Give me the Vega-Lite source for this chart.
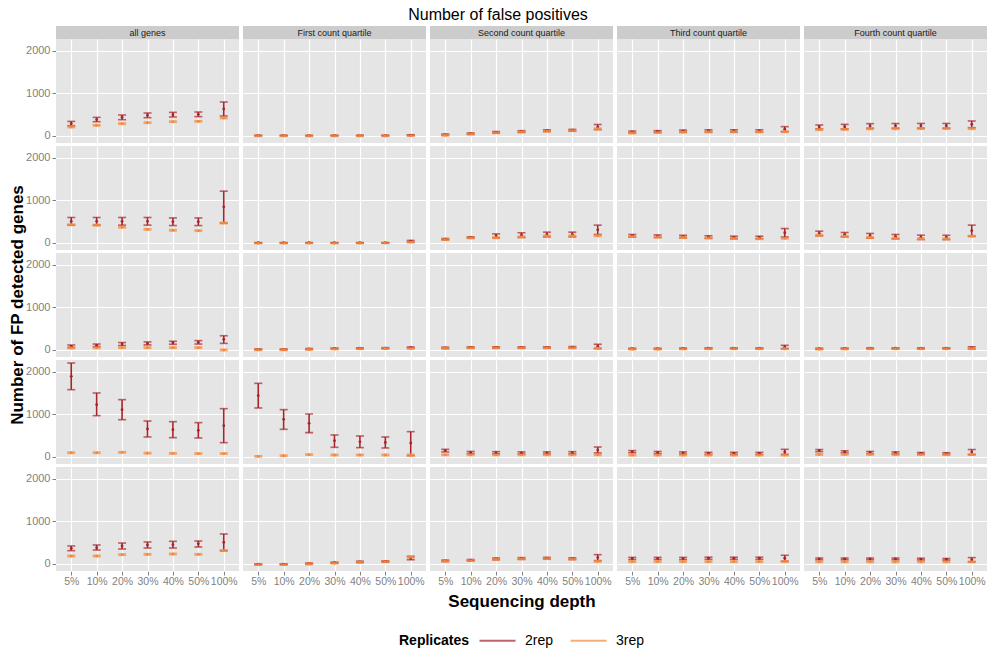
{
"$schema": "https://vega.github.io/schema/vega-lite/v6.json",
"background": "white",
"padding": {"left": 8, "top": 7, "right": 0, "bottom": 0},
"title": {"text": "Number of false positives", "fontSize": 16, "fontWeight": "normal", "font": "Liberation Sans", "color": "black", "anchor": "middle", "offset": 3},
"spacing": 0,
"bounds": "flush",
"vconcat": [
{
"data": {"values": [{"c": "all genes"}, {"c": "First count quartile"}, {"c": "Second count quartile"}, {"c": "Third count quartile"}, {"c": "Fourth count quartile"}]},
"width": 931,
"height": 13,
"view": {"fill": "white", "stroke": null},
"encoding": {"x": {"field": "c", "type": "nominal", "sort": ["all genes", "First count quartile", "Second count quartile", "Third count quartile", "Fourth count quartile"], "scale": {"type": "band", "paddingInner": 0.0214, "paddingOuter": 0}, "axis": null}},
"layer": [
  {"mark": {"type": "rect", "fill": "#CCCCCC"}},
  {"mark": {"type": "text", "fontSize": 9, "color": "#1A1A1A", "font": "Liberation Sans"}, "encoding": {"text": {"field": "c", "type": "nominal"}}}
]
},
{
"data": {"values": [
{"r":"1","c":"all genes","d":"5%","s":"2rep","m":292,"l":242,"u":343},
{"r":"1","c":"all genes","d":"10%","s":"2rep","m":387,"l":336,"u":438},
{"r":"1","c":"all genes","d":"20%","s":"2rep","m":440,"l":384,"u":494},
{"r":"1","c":"all genes","d":"30%","s":"2rep","m":485,"l":431,"u":541},
{"r":"1","c":"all genes","d":"40%","s":"2rep","m":500,"l":447,"u":556},
{"r":"1","c":"all genes","d":"50%","s":"2rep","m":510,"l":455,"u":564},
{"r":"1","c":"all genes","d":"100%","s":"2rep","m":635,"l":470,"u":800},
{"r":"1","c":"all genes","d":"5%","s":"3rep","m":212,"l":197,"u":227},
{"r":"1","c":"all genes","d":"10%","s":"3rep","m":250,"l":235,"u":265},
{"r":"1","c":"all genes","d":"20%","s":"3rep","m":290,"l":275,"u":305},
{"r":"1","c":"all genes","d":"30%","s":"3rep","m":313,"l":298,"u":328},
{"r":"1","c":"all genes","d":"40%","s":"3rep","m":337,"l":322,"u":352},
{"r":"1","c":"all genes","d":"50%","s":"3rep","m":344,"l":329,"u":359},
{"r":"1","c":"all genes","d":"100%","s":"3rep","m":423,"l":408,"u":438},
{"r":"1","c":"First count quartile","d":"5%","s":"2rep","m":10,"l":2,"u":18},
{"r":"1","c":"First count quartile","d":"10%","s":"2rep","m":10,"l":2,"u":18},
{"r":"1","c":"First count quartile","d":"20%","s":"2rep","m":10,"l":2,"u":18},
{"r":"1","c":"First count quartile","d":"30%","s":"2rep","m":10,"l":2,"u":18},
{"r":"1","c":"First count quartile","d":"40%","s":"2rep","m":10,"l":2,"u":18},
{"r":"1","c":"First count quartile","d":"50%","s":"2rep","m":10,"l":2,"u":18},
{"r":"1","c":"First count quartile","d":"100%","s":"2rep","m":20,"l":12,"u":28},
{"r":"1","c":"First count quartile","d":"5%","s":"3rep","m":0,"l":-8,"u":8},
{"r":"1","c":"First count quartile","d":"10%","s":"3rep","m":0,"l":-8,"u":8},
{"r":"1","c":"First count quartile","d":"20%","s":"3rep","m":0,"l":-8,"u":8},
{"r":"1","c":"First count quartile","d":"30%","s":"3rep","m":0,"l":-8,"u":8},
{"r":"1","c":"First count quartile","d":"40%","s":"3rep","m":0,"l":-8,"u":8},
{"r":"1","c":"First count quartile","d":"50%","s":"3rep","m":0,"l":-8,"u":8},
{"r":"1","c":"First count quartile","d":"100%","s":"3rep","m":5,"l":-3,"u":13},
{"r":"1","c":"Second count quartile","d":"5%","s":"2rep","m":30,"l":15,"u":45},
{"r":"1","c":"Second count quartile","d":"10%","s":"2rep","m":55,"l":40,"u":70},
{"r":"1","c":"Second count quartile","d":"20%","s":"2rep","m":85,"l":65,"u":105},
{"r":"1","c":"Second count quartile","d":"30%","s":"2rep","m":105,"l":85,"u":125},
{"r":"1","c":"Second count quartile","d":"40%","s":"2rep","m":125,"l":105,"u":145},
{"r":"1","c":"Second count quartile","d":"50%","s":"2rep","m":135,"l":115,"u":155},
{"r":"1","c":"Second count quartile","d":"100%","s":"2rep","m":210,"l":150,"u":270},
{"r":"1","c":"Second count quartile","d":"5%","s":"3rep","m":20,"l":5,"u":35},
{"r":"1","c":"Second count quartile","d":"10%","s":"3rep","m":45,"l":30,"u":60},
{"r":"1","c":"Second count quartile","d":"20%","s":"3rep","m":75,"l":60,"u":90},
{"r":"1","c":"Second count quartile","d":"30%","s":"3rep","m":95,"l":80,"u":110},
{"r":"1","c":"Second count quartile","d":"40%","s":"3rep","m":115,"l":100,"u":130},
{"r":"1","c":"Second count quartile","d":"50%","s":"3rep","m":125,"l":110,"u":140},
{"r":"1","c":"Second count quartile","d":"100%","s":"3rep","m":170,"l":155,"u":185},
{"r":"1","c":"Third count quartile","d":"5%","s":"2rep","m":95,"l":75,"u":115},
{"r":"1","c":"Third count quartile","d":"10%","s":"2rep","m":105,"l":85,"u":125},
{"r":"1","c":"Third count quartile","d":"20%","s":"2rep","m":115,"l":90,"u":140},
{"r":"1","c":"Third count quartile","d":"30%","s":"2rep","m":120,"l":95,"u":145},
{"r":"1","c":"Third count quartile","d":"40%","s":"2rep","m":120,"l":95,"u":145},
{"r":"1","c":"Third count quartile","d":"50%","s":"2rep","m":120,"l":95,"u":145},
{"r":"1","c":"Third count quartile","d":"100%","s":"2rep","m":160,"l":100,"u":220},
{"r":"1","c":"Third count quartile","d":"5%","s":"3rep","m":70,"l":55,"u":85},
{"r":"1","c":"Third count quartile","d":"10%","s":"3rep","m":80,"l":65,"u":95},
{"r":"1","c":"Third count quartile","d":"20%","s":"3rep","m":90,"l":75,"u":105},
{"r":"1","c":"Third count quartile","d":"30%","s":"3rep","m":95,"l":80,"u":110},
{"r":"1","c":"Third count quartile","d":"40%","s":"3rep","m":95,"l":80,"u":110},
{"r":"1","c":"Third count quartile","d":"50%","s":"3rep","m":95,"l":80,"u":110},
{"r":"1","c":"Third count quartile","d":"100%","s":"3rep","m":100,"l":85,"u":115},
{"r":"1","c":"Fourth count quartile","d":"5%","s":"2rep","m":212,"l":165,"u":259},
{"r":"1","c":"Fourth count quartile","d":"10%","s":"2rep","m":219,"l":165,"u":273},
{"r":"1","c":"Fourth count quartile","d":"20%","s":"2rep","m":235,"l":180,"u":290},
{"r":"1","c":"Fourth count quartile","d":"30%","s":"2rep","m":238,"l":183,"u":293},
{"r":"1","c":"Fourth count quartile","d":"40%","s":"2rep","m":240,"l":185,"u":295},
{"r":"1","c":"Fourth count quartile","d":"50%","s":"2rep","m":240,"l":185,"u":295},
{"r":"1","c":"Fourth count quartile","d":"100%","s":"2rep","m":275,"l":195,"u":353},
{"r":"1","c":"Fourth count quartile","d":"5%","s":"3rep","m":148,"l":133,"u":163},
{"r":"1","c":"Fourth count quartile","d":"10%","s":"3rep","m":155,"l":140,"u":170},
{"r":"1","c":"Fourth count quartile","d":"20%","s":"3rep","m":170,"l":155,"u":185},
{"r":"1","c":"Fourth count quartile","d":"30%","s":"3rep","m":170,"l":155,"u":185},
{"r":"1","c":"Fourth count quartile","d":"40%","s":"3rep","m":175,"l":160,"u":190},
{"r":"1","c":"Fourth count quartile","d":"50%","s":"3rep","m":175,"l":160,"u":190},
{"r":"1","c":"Fourth count quartile","d":"100%","s":"3rep","m":172,"l":157,"u":187},
{"r":"2","c":"all genes","d":"5%","s":"2rep","m":510,"l":420,"u":600},
{"r":"2","c":"all genes","d":"10%","s":"2rep","m":510,"l":420,"u":600},
{"r":"2","c":"all genes","d":"20%","s":"2rep","m":510,"l":420,"u":600},
{"r":"2","c":"all genes","d":"30%","s":"2rep","m":510,"l":420,"u":600},
{"r":"2","c":"all genes","d":"40%","s":"2rep","m":500,"l":410,"u":590},
{"r":"2","c":"all genes","d":"50%","s":"2rep","m":500,"l":410,"u":590},
{"r":"2","c":"all genes","d":"100%","s":"2rep","m":850,"l":470,"u":1220},
{"r":"2","c":"all genes","d":"5%","s":"3rep","m":430,"l":415,"u":445},
{"r":"2","c":"all genes","d":"10%","s":"3rep","m":420,"l":405,"u":435},
{"r":"2","c":"all genes","d":"20%","s":"3rep","m":370,"l":355,"u":385},
{"r":"2","c":"all genes","d":"30%","s":"3rep","m":320,"l":305,"u":335},
{"r":"2","c":"all genes","d":"40%","s":"3rep","m":300,"l":285,"u":315},
{"r":"2","c":"all genes","d":"50%","s":"3rep","m":290,"l":275,"u":305},
{"r":"2","c":"all genes","d":"100%","s":"3rep","m":470,"l":455,"u":485},
{"r":"2","c":"First count quartile","d":"5%","s":"2rep","m":5,"l":0,"u":10},
{"r":"2","c":"First count quartile","d":"10%","s":"2rep","m":5,"l":0,"u":10},
{"r":"2","c":"First count quartile","d":"20%","s":"2rep","m":5,"l":0,"u":10},
{"r":"2","c":"First count quartile","d":"30%","s":"2rep","m":5,"l":0,"u":10},
{"r":"2","c":"First count quartile","d":"40%","s":"2rep","m":5,"l":0,"u":10},
{"r":"2","c":"First count quartile","d":"50%","s":"2rep","m":5,"l":0,"u":10},
{"r":"2","c":"First count quartile","d":"100%","s":"2rep","m":40,"l":20,"u":60},
{"r":"2","c":"First count quartile","d":"5%","s":"3rep","m":-5,"l":-13,"u":3},
{"r":"2","c":"First count quartile","d":"10%","s":"3rep","m":-5,"l":-13,"u":3},
{"r":"2","c":"First count quartile","d":"20%","s":"3rep","m":-5,"l":-13,"u":3},
{"r":"2","c":"First count quartile","d":"30%","s":"3rep","m":-5,"l":-13,"u":3},
{"r":"2","c":"First count quartile","d":"40%","s":"3rep","m":-5,"l":-13,"u":3},
{"r":"2","c":"First count quartile","d":"50%","s":"3rep","m":0,"l":-8,"u":8},
{"r":"2","c":"First count quartile","d":"100%","s":"3rep","m":20,"l":5,"u":35},
{"r":"2","c":"Second count quartile","d":"5%","s":"2rep","m":90,"l":75,"u":105},
{"r":"2","c":"Second count quartile","d":"10%","s":"2rep","m":130,"l":115,"u":145},
{"r":"2","c":"Second count quartile","d":"20%","s":"2rep","m":167,"l":120,"u":214},
{"r":"2","c":"Second count quartile","d":"30%","s":"2rep","m":185,"l":130,"u":240},
{"r":"2","c":"Second count quartile","d":"40%","s":"2rep","m":200,"l":145,"u":255},
{"r":"2","c":"Second count quartile","d":"50%","s":"2rep","m":200,"l":145,"u":255},
{"r":"2","c":"Second count quartile","d":"100%","s":"2rep","m":310,"l":200,"u":420},
{"r":"2","c":"Second count quartile","d":"5%","s":"3rep","m":80,"l":65,"u":95},
{"r":"2","c":"Second count quartile","d":"10%","s":"3rep","m":120,"l":105,"u":135},
{"r":"2","c":"Second count quartile","d":"20%","s":"3rep","m":125,"l":110,"u":140},
{"r":"2","c":"Second count quartile","d":"30%","s":"3rep","m":145,"l":130,"u":160},
{"r":"2","c":"Second count quartile","d":"40%","s":"3rep","m":165,"l":150,"u":180},
{"r":"2","c":"Second count quartile","d":"50%","s":"3rep","m":170,"l":155,"u":185},
{"r":"2","c":"Second count quartile","d":"100%","s":"3rep","m":170,"l":155,"u":185},
{"r":"2","c":"Third count quartile","d":"5%","s":"2rep","m":170,"l":140,"u":200},
{"r":"2","c":"Third count quartile","d":"10%","s":"2rep","m":160,"l":130,"u":190},
{"r":"2","c":"Third count quartile","d":"20%","s":"2rep","m":150,"l":120,"u":180},
{"r":"2","c":"Third count quartile","d":"30%","s":"2rep","m":140,"l":110,"u":170},
{"r":"2","c":"Third count quartile","d":"40%","s":"2rep","m":130,"l":100,"u":160},
{"r":"2","c":"Third count quartile","d":"50%","s":"2rep","m":130,"l":100,"u":160},
{"r":"2","c":"Third count quartile","d":"100%","s":"2rep","m":240,"l":140,"u":340},
{"r":"2","c":"Third count quartile","d":"5%","s":"3rep","m":150,"l":135,"u":165},
{"r":"2","c":"Third count quartile","d":"10%","s":"3rep","m":140,"l":125,"u":155},
{"r":"2","c":"Third count quartile","d":"20%","s":"3rep","m":130,"l":115,"u":145},
{"r":"2","c":"Third count quartile","d":"30%","s":"3rep","m":120,"l":105,"u":135},
{"r":"2","c":"Third count quartile","d":"40%","s":"3rep","m":110,"l":95,"u":125},
{"r":"2","c":"Third count quartile","d":"50%","s":"3rep","m":100,"l":85,"u":115},
{"r":"2","c":"Third count quartile","d":"100%","s":"3rep","m":110,"l":95,"u":125},
{"r":"2","c":"Fourth count quartile","d":"5%","s":"2rep","m":224,"l":170,"u":278},
{"r":"2","c":"Fourth count quartile","d":"10%","s":"2rep","m":196,"l":145,"u":247},
{"r":"2","c":"Fourth count quartile","d":"20%","s":"2rep","m":170,"l":113,"u":224},
{"r":"2","c":"Fourth count quartile","d":"30%","s":"2rep","m":150,"l":98,"u":200},
{"r":"2","c":"Fourth count quartile","d":"40%","s":"2rep","m":133,"l":82,"u":185},
{"r":"2","c":"Fourth count quartile","d":"50%","s":"2rep","m":130,"l":80,"u":182},
{"r":"2","c":"Fourth count quartile","d":"100%","s":"2rep","m":290,"l":160,"u":420},
{"r":"2","c":"Fourth count quartile","d":"5%","s":"3rep","m":185,"l":170,"u":200},
{"r":"2","c":"Fourth count quartile","d":"10%","s":"3rep","m":160,"l":145,"u":175},
{"r":"2","c":"Fourth count quartile","d":"20%","s":"3rep","m":130,"l":115,"u":145},
{"r":"2","c":"Fourth count quartile","d":"30%","s":"3rep","m":115,"l":100,"u":130},
{"r":"2","c":"Fourth count quartile","d":"40%","s":"3rep","m":100,"l":85,"u":115},
{"r":"2","c":"Fourth count quartile","d":"50%","s":"3rep","m":100,"l":85,"u":115},
{"r":"2","c":"Fourth count quartile","d":"100%","s":"3rep","m":160,"l":145,"u":175},
{"r":"3","c":"all genes","d":"5%","s":"2rep","m":87,"l":57,"u":117},
{"r":"3","c":"all genes","d":"10%","s":"2rep","m":110,"l":80,"u":140},
{"r":"3","c":"all genes","d":"20%","s":"2rep","m":140,"l":105,"u":175},
{"r":"3","c":"all genes","d":"30%","s":"2rep","m":155,"l":120,"u":190},
{"r":"3","c":"all genes","d":"40%","s":"2rep","m":170,"l":135,"u":205},
{"r":"3","c":"all genes","d":"50%","s":"2rep","m":180,"l":140,"u":220},
{"r":"3","c":"all genes","d":"100%","s":"2rep","m":250,"l":155,"u":335},
{"r":"3","c":"all genes","d":"5%","s":"3rep","m":47,"l":32,"u":62},
{"r":"3","c":"all genes","d":"10%","s":"3rep","m":50,"l":35,"u":65},
{"r":"3","c":"all genes","d":"20%","s":"3rep","m":55,"l":40,"u":70},
{"r":"3","c":"all genes","d":"30%","s":"3rep","m":55,"l":40,"u":70},
{"r":"3","c":"all genes","d":"40%","s":"3rep","m":55,"l":40,"u":70},
{"r":"3","c":"all genes","d":"50%","s":"3rep","m":55,"l":40,"u":70},
{"r":"3","c":"all genes","d":"100%","s":"3rep","m":0,"l":-15,"u":15},
{"r":"3","c":"First count quartile","d":"5%","s":"2rep","m":15,"l":5,"u":25},
{"r":"3","c":"First count quartile","d":"10%","s":"2rep","m":15,"l":5,"u":25},
{"r":"3","c":"First count quartile","d":"20%","s":"2rep","m":25,"l":15,"u":35},
{"r":"3","c":"First count quartile","d":"30%","s":"2rep","m":35,"l":25,"u":45},
{"r":"3","c":"First count quartile","d":"40%","s":"2rep","m":40,"l":30,"u":50},
{"r":"3","c":"First count quartile","d":"50%","s":"2rep","m":45,"l":35,"u":55},
{"r":"3","c":"First count quartile","d":"100%","s":"2rep","m":60,"l":50,"u":70},
{"r":"3","c":"First count quartile","d":"5%","s":"3rep","m":5,"l":-10,"u":20},
{"r":"3","c":"First count quartile","d":"10%","s":"3rep","m":5,"l":-10,"u":20},
{"r":"3","c":"First count quartile","d":"20%","s":"3rep","m":15,"l":0,"u":30},
{"r":"3","c":"First count quartile","d":"30%","s":"3rep","m":25,"l":10,"u":40},
{"r":"3","c":"First count quartile","d":"40%","s":"3rep","m":30,"l":15,"u":45},
{"r":"3","c":"First count quartile","d":"50%","s":"3rep","m":35,"l":20,"u":50},
{"r":"3","c":"First count quartile","d":"100%","s":"3rep","m":35,"l":20,"u":50},
{"r":"3","c":"Second count quartile","d":"5%","s":"2rep","m":50,"l":35,"u":65},
{"r":"3","c":"Second count quartile","d":"10%","s":"2rep","m":60,"l":45,"u":75},
{"r":"3","c":"Second count quartile","d":"20%","s":"2rep","m":60,"l":45,"u":75},
{"r":"3","c":"Second count quartile","d":"30%","s":"2rep","m":60,"l":45,"u":75},
{"r":"3","c":"Second count quartile","d":"40%","s":"2rep","m":60,"l":45,"u":75},
{"r":"3","c":"Second count quartile","d":"50%","s":"2rep","m":65,"l":50,"u":80},
{"r":"3","c":"Second count quartile","d":"100%","s":"2rep","m":85,"l":35,"u":135},
{"r":"3","c":"Second count quartile","d":"5%","s":"3rep","m":40,"l":25,"u":55},
{"r":"3","c":"Second count quartile","d":"10%","s":"3rep","m":50,"l":35,"u":65},
{"r":"3","c":"Second count quartile","d":"20%","s":"3rep","m":50,"l":35,"u":65},
{"r":"3","c":"Second count quartile","d":"30%","s":"3rep","m":50,"l":35,"u":65},
{"r":"3","c":"Second count quartile","d":"40%","s":"3rep","m":50,"l":35,"u":65},
{"r":"3","c":"Second count quartile","d":"50%","s":"3rep","m":50,"l":35,"u":65},
{"r":"3","c":"Second count quartile","d":"100%","s":"3rep","m":40,"l":25,"u":55},
{"r":"3","c":"Third count quartile","d":"5%","s":"2rep","m":30,"l":20,"u":40},
{"r":"3","c":"Third count quartile","d":"10%","s":"2rep","m":30,"l":20,"u":40},
{"r":"3","c":"Third count quartile","d":"20%","s":"2rep","m":35,"l":25,"u":45},
{"r":"3","c":"Third count quartile","d":"30%","s":"2rep","m":40,"l":30,"u":50},
{"r":"3","c":"Third count quartile","d":"40%","s":"2rep","m":40,"l":30,"u":50},
{"r":"3","c":"Third count quartile","d":"50%","s":"2rep","m":40,"l":30,"u":50},
{"r":"3","c":"Third count quartile","d":"100%","s":"2rep","m":70,"l":30,"u":110},
{"r":"3","c":"Third count quartile","d":"5%","s":"3rep","m":20,"l":5,"u":35},
{"r":"3","c":"Third count quartile","d":"10%","s":"3rep","m":20,"l":5,"u":35},
{"r":"3","c":"Third count quartile","d":"20%","s":"3rep","m":25,"l":10,"u":40},
{"r":"3","c":"Third count quartile","d":"30%","s":"3rep","m":30,"l":15,"u":45},
{"r":"3","c":"Third count quartile","d":"40%","s":"3rep","m":30,"l":15,"u":45},
{"r":"3","c":"Third count quartile","d":"50%","s":"3rep","m":30,"l":15,"u":45},
{"r":"3","c":"Third count quartile","d":"100%","s":"3rep","m":30,"l":15,"u":45},
{"r":"3","c":"Fourth count quartile","d":"5%","s":"2rep","m":30,"l":20,"u":40},
{"r":"3","c":"Fourth count quartile","d":"10%","s":"2rep","m":35,"l":25,"u":45},
{"r":"3","c":"Fourth count quartile","d":"20%","s":"2rep","m":40,"l":30,"u":50},
{"r":"3","c":"Fourth count quartile","d":"30%","s":"2rep","m":40,"l":30,"u":50},
{"r":"3","c":"Fourth count quartile","d":"40%","s":"2rep","m":40,"l":30,"u":50},
{"r":"3","c":"Fourth count quartile","d":"50%","s":"2rep","m":40,"l":30,"u":50},
{"r":"3","c":"Fourth count quartile","d":"100%","s":"2rep","m":50,"l":25,"u":75},
{"r":"3","c":"Fourth count quartile","d":"5%","s":"3rep","m":20,"l":5,"u":35},
{"r":"3","c":"Fourth count quartile","d":"10%","s":"3rep","m":25,"l":10,"u":40},
{"r":"3","c":"Fourth count quartile","d":"20%","s":"3rep","m":30,"l":15,"u":45},
{"r":"3","c":"Fourth count quartile","d":"30%","s":"3rep","m":30,"l":15,"u":45},
{"r":"3","c":"Fourth count quartile","d":"40%","s":"3rep","m":30,"l":15,"u":45},
{"r":"3","c":"Fourth count quartile","d":"50%","s":"3rep","m":30,"l":15,"u":45},
{"r":"3","c":"Fourth count quartile","d":"100%","s":"3rep","m":30,"l":15,"u":45},
{"r":"4","c":"all genes","d":"5%","s":"2rep","m":1898,"l":1584,"u":2212},
{"r":"4","c":"all genes","d":"10%","s":"2rep","m":1231,"l":973,"u":1506},
{"r":"4","c":"all genes","d":"20%","s":"2rep","m":1113,"l":878,"u":1349},
{"r":"4","c":"all genes","d":"30%","s":"2rep","m":659,"l":471,"u":847},
{"r":"4","c":"all genes","d":"40%","s":"2rep","m":643,"l":455,"u":831},
{"r":"4","c":"all genes","d":"50%","s":"2rep","m":627,"l":447,"u":808},
{"r":"4","c":"all genes","d":"100%","s":"2rep","m":737,"l":337,"u":1137},
{"r":"4","c":"all genes","d":"5%","s":"3rep","m":100,"l":85,"u":115},
{"r":"4","c":"all genes","d":"10%","s":"3rep","m":100,"l":85,"u":115},
{"r":"4","c":"all genes","d":"20%","s":"3rep","m":110,"l":95,"u":125},
{"r":"4","c":"all genes","d":"30%","s":"3rep","m":90,"l":75,"u":105},
{"r":"4","c":"all genes","d":"40%","s":"3rep","m":85,"l":70,"u":100},
{"r":"4","c":"all genes","d":"50%","s":"3rep","m":80,"l":65,"u":95},
{"r":"4","c":"all genes","d":"100%","s":"3rep","m":80,"l":65,"u":95},
{"r":"4","c":"First count quartile","d":"5%","s":"2rep","m":1443,"l":1153,"u":1733},
{"r":"4","c":"First count quartile","d":"10%","s":"2rep","m":886,"l":651,"u":1114},
{"r":"4","c":"First count quartile","d":"20%","s":"2rep","m":792,"l":573,"u":1012},
{"r":"4","c":"First count quartile","d":"30%","s":"2rep","m":384,"l":227,"u":518},
{"r":"4","c":"First count quartile","d":"40%","s":"2rep","m":357,"l":220,"u":494},
{"r":"4","c":"First count quartile","d":"50%","s":"2rep","m":341,"l":212,"u":471},
{"r":"4","c":"First count quartile","d":"100%","s":"2rep","m":329,"l":31,"u":596},
{"r":"4","c":"First count quartile","d":"5%","s":"3rep","m":15,"l":0,"u":30},
{"r":"4","c":"First count quartile","d":"10%","s":"3rep","m":30,"l":15,"u":45},
{"r":"4","c":"First count quartile","d":"20%","s":"3rep","m":55,"l":40,"u":70},
{"r":"4","c":"First count quartile","d":"30%","s":"3rep","m":47,"l":32,"u":62},
{"r":"4","c":"First count quartile","d":"40%","s":"3rep","m":47,"l":32,"u":62},
{"r":"4","c":"First count quartile","d":"50%","s":"3rep","m":47,"l":32,"u":62},
{"r":"4","c":"First count quartile","d":"100%","s":"3rep","m":47,"l":32,"u":62},
{"r":"4","c":"Second count quartile","d":"5%","s":"2rep","m":150,"l":120,"u":180},
{"r":"4","c":"Second count quartile","d":"10%","s":"2rep","m":105,"l":80,"u":130},
{"r":"4","c":"Second count quartile","d":"20%","s":"2rep","m":100,"l":75,"u":125},
{"r":"4","c":"Second count quartile","d":"30%","s":"2rep","m":95,"l":70,"u":120},
{"r":"4","c":"Second count quartile","d":"40%","s":"2rep","m":95,"l":70,"u":120},
{"r":"4","c":"Second count quartile","d":"50%","s":"2rep","m":100,"l":75,"u":125},
{"r":"4","c":"Second count quartile","d":"100%","s":"2rep","m":165,"l":95,"u":235},
{"r":"4","c":"Second count quartile","d":"5%","s":"3rep","m":50,"l":35,"u":65},
{"r":"4","c":"Second count quartile","d":"10%","s":"3rep","m":50,"l":35,"u":65},
{"r":"4","c":"Second count quartile","d":"20%","s":"3rep","m":50,"l":35,"u":65},
{"r":"4","c":"Second count quartile","d":"30%","s":"3rep","m":50,"l":35,"u":65},
{"r":"4","c":"Second count quartile","d":"40%","s":"3rep","m":50,"l":35,"u":65},
{"r":"4","c":"Second count quartile","d":"50%","s":"3rep","m":50,"l":35,"u":65},
{"r":"4","c":"Second count quartile","d":"100%","s":"3rep","m":50,"l":35,"u":65},
{"r":"4","c":"Third count quartile","d":"5%","s":"2rep","m":125,"l":100,"u":150},
{"r":"4","c":"Third count quartile","d":"10%","s":"2rep","m":105,"l":80,"u":130},
{"r":"4","c":"Third count quartile","d":"20%","s":"2rep","m":95,"l":70,"u":120},
{"r":"4","c":"Third count quartile","d":"30%","s":"2rep","m":85,"l":60,"u":110},
{"r":"4","c":"Third count quartile","d":"40%","s":"2rep","m":85,"l":60,"u":110},
{"r":"4","c":"Third count quartile","d":"50%","s":"2rep","m":85,"l":60,"u":110},
{"r":"4","c":"Third count quartile","d":"100%","s":"2rep","m":120,"l":60,"u":180},
{"r":"4","c":"Third count quartile","d":"5%","s":"3rep","m":45,"l":30,"u":60},
{"r":"4","c":"Third count quartile","d":"10%","s":"3rep","m":45,"l":30,"u":60},
{"r":"4","c":"Third count quartile","d":"20%","s":"3rep","m":45,"l":30,"u":60},
{"r":"4","c":"Third count quartile","d":"30%","s":"3rep","m":45,"l":30,"u":60},
{"r":"4","c":"Third count quartile","d":"40%","s":"3rep","m":45,"l":30,"u":60},
{"r":"4","c":"Third count quartile","d":"50%","s":"3rep","m":45,"l":30,"u":60},
{"r":"4","c":"Third count quartile","d":"100%","s":"3rep","m":45,"l":30,"u":60},
{"r":"4","c":"Fourth count quartile","d":"5%","s":"2rep","m":150,"l":125,"u":175},
{"r":"4","c":"Fourth count quartile","d":"10%","s":"2rep","m":120,"l":95,"u":145},
{"r":"4","c":"Fourth count quartile","d":"20%","s":"2rep","m":105,"l":80,"u":130},
{"r":"4","c":"Fourth count quartile","d":"30%","s":"2rep","m":95,"l":70,"u":120},
{"r":"4","c":"Fourth count quartile","d":"40%","s":"2rep","m":85,"l":65,"u":105},
{"r":"4","c":"Fourth count quartile","d":"50%","s":"2rep","m":80,"l":60,"u":100},
{"r":"4","c":"Fourth count quartile","d":"100%","s":"2rep","m":115,"l":55,"u":175},
{"r":"4","c":"Fourth count quartile","d":"5%","s":"3rep","m":60,"l":45,"u":75},
{"r":"4","c":"Fourth count quartile","d":"10%","s":"3rep","m":60,"l":45,"u":75},
{"r":"4","c":"Fourth count quartile","d":"20%","s":"3rep","m":60,"l":45,"u":75},
{"r":"4","c":"Fourth count quartile","d":"30%","s":"3rep","m":55,"l":40,"u":70},
{"r":"4","c":"Fourth count quartile","d":"40%","s":"3rep","m":55,"l":40,"u":70},
{"r":"4","c":"Fourth count quartile","d":"50%","s":"3rep","m":55,"l":40,"u":70},
{"r":"4","c":"Fourth count quartile","d":"100%","s":"3rep","m":60,"l":45,"u":75},
{"r":"5","c":"all genes","d":"5%","s":"2rep","m":369,"l":314,"u":424},
{"r":"5","c":"all genes","d":"10%","s":"2rep","m":384,"l":329,"u":447},
{"r":"5","c":"all genes","d":"20%","s":"2rep","m":424,"l":353,"u":494},
{"r":"5","c":"all genes","d":"30%","s":"2rep","m":447,"l":376,"u":518},
{"r":"5","c":"all genes","d":"40%","s":"2rep","m":455,"l":376,"u":533},
{"r":"5","c":"all genes","d":"50%","s":"2rep","m":478,"l":400,"u":541},
{"r":"5","c":"all genes","d":"100%","s":"2rep","m":510,"l":314,"u":706},
{"r":"5","c":"all genes","d":"5%","s":"3rep","m":188,"l":173,"u":203},
{"r":"5","c":"all genes","d":"10%","s":"3rep","m":188,"l":173,"u":203},
{"r":"5","c":"all genes","d":"20%","s":"3rep","m":220,"l":205,"u":235},
{"r":"5","c":"all genes","d":"30%","s":"3rep","m":227,"l":212,"u":242},
{"r":"5","c":"all genes","d":"40%","s":"3rep","m":235,"l":220,"u":250},
{"r":"5","c":"all genes","d":"50%","s":"3rep","m":227,"l":212,"u":242},
{"r":"5","c":"all genes","d":"100%","s":"3rep","m":314,"l":299,"u":329},
{"r":"5","c":"First count quartile","d":"5%","s":"2rep","m":-5,"l":-13,"u":3},
{"r":"5","c":"First count quartile","d":"10%","s":"2rep","m":-5,"l":-13,"u":3},
{"r":"5","c":"First count quartile","d":"20%","s":"2rep","m":10,"l":0,"u":20},
{"r":"5","c":"First count quartile","d":"30%","s":"2rep","m":30,"l":18,"u":42},
{"r":"5","c":"First count quartile","d":"40%","s":"2rep","m":50,"l":35,"u":65},
{"r":"5","c":"First count quartile","d":"50%","s":"2rep","m":60,"l":45,"u":75},
{"r":"5","c":"First count quartile","d":"100%","s":"2rep","m":140,"l":100,"u":180},
{"r":"5","c":"First count quartile","d":"5%","s":"3rep","m":-15,"l":-30,"u":0},
{"r":"5","c":"First count quartile","d":"10%","s":"3rep","m":-15,"l":-30,"u":0},
{"r":"5","c":"First count quartile","d":"20%","s":"3rep","m":0,"l":-15,"u":15},
{"r":"5","c":"First count quartile","d":"30%","s":"3rep","m":20,"l":5,"u":35},
{"r":"5","c":"First count quartile","d":"40%","s":"3rep","m":40,"l":25,"u":55},
{"r":"5","c":"First count quartile","d":"50%","s":"3rep","m":55,"l":40,"u":70},
{"r":"5","c":"First count quartile","d":"100%","s":"3rep","m":160,"l":145,"u":175},
{"r":"5","c":"Second count quartile","d":"5%","s":"2rep","m":75,"l":60,"u":90},
{"r":"5","c":"Second count quartile","d":"10%","s":"2rep","m":90,"l":75,"u":105},
{"r":"5","c":"Second count quartile","d":"20%","s":"2rep","m":120,"l":100,"u":140},
{"r":"5","c":"Second count quartile","d":"30%","s":"2rep","m":130,"l":110,"u":150},
{"r":"5","c":"Second count quartile","d":"40%","s":"2rep","m":135,"l":115,"u":155},
{"r":"5","c":"Second count quartile","d":"50%","s":"2rep","m":125,"l":105,"u":145},
{"r":"5","c":"Second count quartile","d":"100%","s":"2rep","m":150,"l":80,"u":220},
{"r":"5","c":"Second count quartile","d":"5%","s":"3rep","m":65,"l":50,"u":80},
{"r":"5","c":"Second count quartile","d":"10%","s":"3rep","m":80,"l":65,"u":95},
{"r":"5","c":"Second count quartile","d":"20%","s":"3rep","m":110,"l":95,"u":125},
{"r":"5","c":"Second count quartile","d":"30%","s":"3rep","m":120,"l":105,"u":135},
{"r":"5","c":"Second count quartile","d":"40%","s":"3rep","m":125,"l":110,"u":140},
{"r":"5","c":"Second count quartile","d":"50%","s":"3rep","m":115,"l":100,"u":130},
{"r":"5","c":"Second count quartile","d":"100%","s":"3rep","m":60,"l":45,"u":75},
{"r":"5","c":"Third count quartile","d":"5%","s":"2rep","m":130,"l":105,"u":155},
{"r":"5","c":"Third count quartile","d":"10%","s":"2rep","m":130,"l":105,"u":155},
{"r":"5","c":"Third count quartile","d":"20%","s":"2rep","m":130,"l":105,"u":155},
{"r":"5","c":"Third count quartile","d":"30%","s":"2rep","m":135,"l":110,"u":160},
{"r":"5","c":"Third count quartile","d":"40%","s":"2rep","m":135,"l":110,"u":160},
{"r":"5","c":"Third count quartile","d":"50%","s":"2rep","m":135,"l":110,"u":160},
{"r":"5","c":"Third count quartile","d":"100%","s":"2rep","m":135,"l":65,"u":205},
{"r":"5","c":"Third count quartile","d":"5%","s":"3rep","m":55,"l":40,"u":70},
{"r":"5","c":"Third count quartile","d":"10%","s":"3rep","m":55,"l":40,"u":70},
{"r":"5","c":"Third count quartile","d":"20%","s":"3rep","m":55,"l":40,"u":70},
{"r":"5","c":"Third count quartile","d":"30%","s":"3rep","m":55,"l":40,"u":70},
{"r":"5","c":"Third count quartile","d":"40%","s":"3rep","m":55,"l":40,"u":70},
{"r":"5","c":"Third count quartile","d":"50%","s":"3rep","m":55,"l":40,"u":70},
{"r":"5","c":"Third count quartile","d":"100%","s":"3rep","m":55,"l":40,"u":70},
{"r":"5","c":"Fourth count quartile","d":"5%","s":"2rep","m":120,"l":100,"u":140},
{"r":"5","c":"Fourth count quartile","d":"10%","s":"2rep","m":120,"l":100,"u":140},
{"r":"5","c":"Fourth count quartile","d":"20%","s":"2rep","m":120,"l":100,"u":140},
{"r":"5","c":"Fourth count quartile","d":"30%","s":"2rep","m":120,"l":100,"u":140},
{"r":"5","c":"Fourth count quartile","d":"40%","s":"2rep","m":115,"l":95,"u":135},
{"r":"5","c":"Fourth count quartile","d":"50%","s":"2rep","m":110,"l":90,"u":130},
{"r":"5","c":"Fourth count quartile","d":"100%","s":"2rep","m":100,"l":50,"u":150},
{"r":"5","c":"Fourth count quartile","d":"5%","s":"3rep","m":50,"l":35,"u":65},
{"r":"5","c":"Fourth count quartile","d":"10%","s":"3rep","m":50,"l":35,"u":65},
{"r":"5","c":"Fourth count quartile","d":"20%","s":"3rep","m":50,"l":35,"u":65},
{"r":"5","c":"Fourth count quartile","d":"30%","s":"3rep","m":50,"l":35,"u":65},
{"r":"5","c":"Fourth count quartile","d":"40%","s":"3rep","m":50,"l":35,"u":65},
{"r":"5","c":"Fourth count quartile","d":"50%","s":"3rep","m":50,"l":35,"u":65},
{"r":"5","c":"Fourth count quartile","d":"100%","s":"3rep","m":50,"l":35,"u":65}
]},
"facet": {
  "column": {"field": "c", "type": "nominal", "sort": ["all genes", "First count quartile", "Second count quartile", "Third count quartile", "Fourth count quartile"], "header": {"title": "Sequencing depth", "titleOrient": "bottom", "labels": false, "titlePadding": -3}},
  "row": {"field": "r", "type": "nominal", "sort": ["1", "2", "3", "4", "5"], "header": {"title": "Number of FP detected genes", "titleOrient": "left", "labels": false, "titlePadding": -12}}
},
"spacing": {"row": 3, "column": 4},
"spec": {
  "width": 183,
  "height": 104,
  "encoding": {
    "x": {"field": "d", "type": "ordinal", "sort": ["5%", "10%", "20%", "30%", "40%", "50%", "100%"], "scale": {"type": "point", "padding": 0.6},
      "axis": {"title": null, "grid": true, "gridColor": "#FFFFFF", "gridWidth": 1.2, "domain": false, "tickColor": "#7F7F7F", "tickSize": 4, "labelColor": "#7F7F7F", "labelFontSize": 10.5, "labelAngle": 0, "labelPadding": 1}},
    "color": {"field": "s", "type": "nominal", "scale": {"domain": ["2rep", "3rep"], "range": ["#A8232A", "#F58A3C"]},
      "legend": {"title": "Replicates", "orient": "none", "legendX": 343, "legendY": 595, "direction": "horizontal", "titleOrient": "left", "titleBaseline": "line-top", "titleLineHeight": 14, "titleFontSize": 14, "titleFontWeight": "bold", "titleColor": "black", "labelFontSize": 14, "labelColor": "black", "symbolType": "stroke", "symbolStrokeWidth": 2, "symbolSize": 1300, "columnPadding": 12, "labelOffset": 8, "titlePadding": 8}}
  },
  "layer": [
    {"mark": {"type": "rule", "strokeWidth": 1.6}, "encoding": {
      "y": {"field": "l", "type": "quantitative", "title": null, "scale": {"domain": [-165, 2282], "nice": false, "zero": false},
        "axis": {"title": null, "values": [0, 250, 500, 750, 1000, 1250, 1500, 1750, 2000, 2250], "format": "d",
          "labelExpr": "datum.value % 500 === 0 ? datum.label : ''",
          "gridColor": {"condition": {"test": "datum.value % 500 === 0", "value": "#FFFFFF"}, "value": "#F2F2F2"},
          "gridWidth": {"condition": {"test": "datum.value % 500 === 0", "value": 1.2}, "value": 0.6},
          "tickOpacity": {"condition": {"test": "datum.value % 500 === 0", "value": 1}, "value": 0},
          "domain": false, "tickColor": "#7F7F7F", "tickSize": 4, "labelColor": "#7F7F7F", "labelFontSize": 11, "labelPadding": 2}},
      "y2": {"field": "u"}}},
    {"mark": {"type": "tick", "orient": "horizontal", "size": 8, "thickness": 1.6}, "encoding": {"y": {"field": "l", "type": "quantitative", "title": null}}},
    {"mark": {"type": "tick", "orient": "horizontal", "size": 8, "thickness": 1.6}, "encoding": {"y": {"field": "u", "type": "quantitative", "title": null}}},
    {"mark": {"type": "point", "filled": true, "size": 8, "opacity": 1}, "encoding": {"y": {"field": "m", "type": "quantitative", "title": null}}}
  ]
}
}
],
"config": {
  "font": "Liberation Sans",
  "view": {"fill": "#E5E5E5", "stroke": null},
  "header": {"labelFontSize": 9, "labelColor": "#1A1A1A", "labelPadding": 0, "titleFontSize": 17, "titleFontWeight": "bold", "titleColor": "black", "titlePadding": 6}
}
}
